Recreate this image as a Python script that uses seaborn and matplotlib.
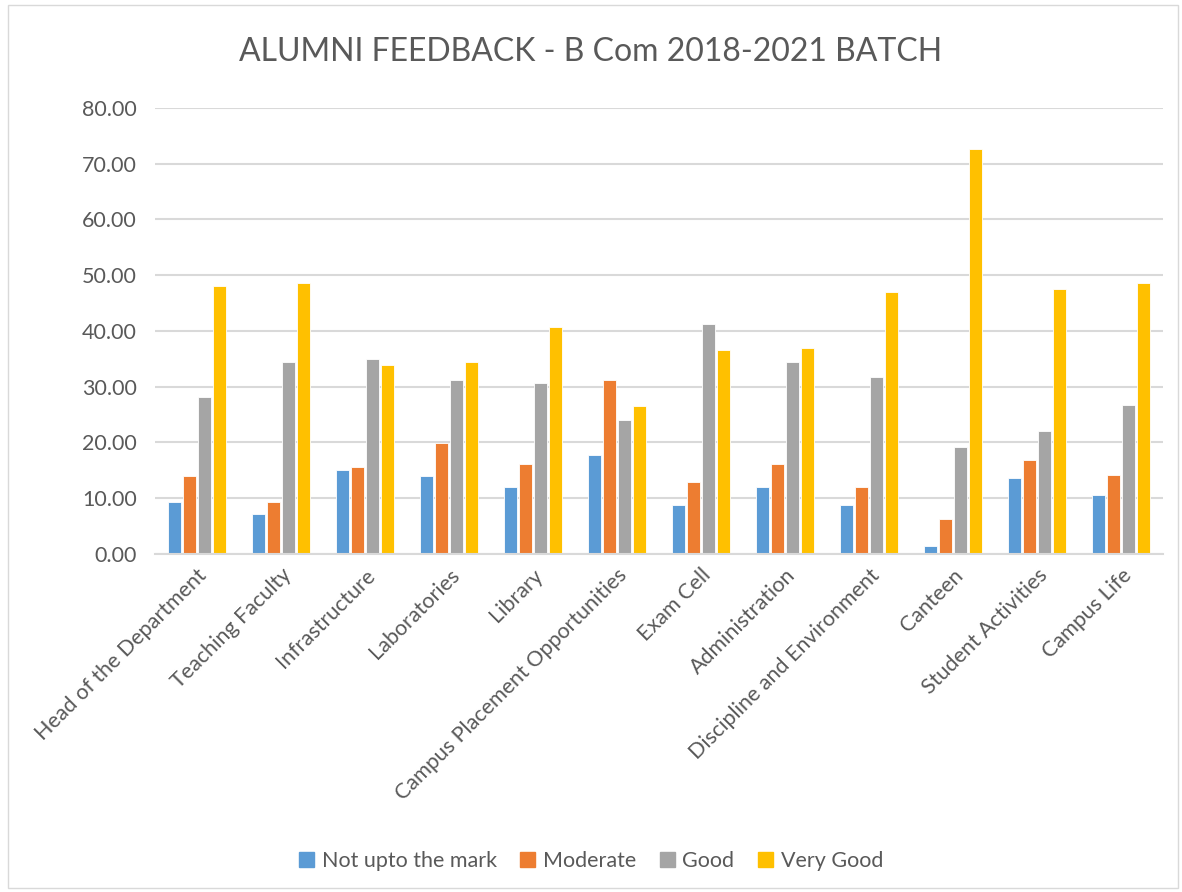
"""
Alumni feedback bar chart - B Com 2018-2021 batch
"""

import pandas as pd
import matplotlib.pyplot as plt
import matplotlib.patches as mpatches
import seaborn as sns

# data
categories = ['Head of the Department', 'Teaching Faculty', 'Infrastructure', 'Laboratories',
              'Library', 'Campus Placement Opportunities', 'Exam Cell', 'Administration',
              'Discipline and Environment', 'Canteen', 'Student Activities', 'Campus Life']
ratings = ['Not upto the mark', 'Moderate', 'Good', 'Very Good']
not_upto_mark = [9.37, 7.22, 15.10, 13.97, 11.94, 17.67, 8.78, 11.94, 8.79, 1.43, 13.69, 10.52]
moderate = [13.97, 9.37, 15.64, 19.82, 16.18, 31.28, 12.96, 16.18, 11.95, 6.22, 16.86, 14.23]
good = [28.18, 34.45, 34.93, 31.28, 30.75, 23.94, 41.25, 34.45, 31.80, 19.25, 22.00, 26.80]
very_good = [48.06, 48.54, 33.91, 34.45, 40.72, 26.57, 36.54, 37.01, 47.04, 72.69, 47.50, 48.60]
colors = ['#5B9BD5', '#ED7D31', '#A5A5A5', '#FFC000']

rows = []
for i, cat in enumerate(categories):
    for rating, series in zip(ratings, [not_upto_mark, moderate, good, very_good]):
        rows.append({'category': cat, 'rating': rating, 'value': series[i]})
df = pd.DataFrame(rows)

sns.set_style("white")
plt.rcParams['font.family'] = ['Lato', 'DejaVu Sans']
text_color = '#595959'
grid_color = '#D9D9D9'

fig = plt.figure(figsize=(11.82, 8.92), dpi=100)
ax = fig.add_axes([0.131, 0.379, 0.853, 0.500])

sns.barplot(data=df, x='category', y='value', hue='rating', hue_order=ratings,
            order=categories, palette=colors, saturation=1, width=0.72, gap=0.15,
            edgecolor='white', linewidth=0.6, ax=ax, legend=False)

ax.set_ylim(0, 80)
ax.set_yticks(range(0, 81, 10))
ax.set_yticklabels([f'{v:.2f}' for v in range(0, 81, 10)], fontsize=15.5, color=text_color)
ax.set_xlim(-0.5, len(categories) - 0.5)
ax.set_xticks(range(len(categories)))
ax.set_xticklabels(categories, rotation=45, ha='right', rotation_mode='anchor',
                   fontsize=15.5, color=text_color)
ax.tick_params(axis='y', length=0, pad=13)
ax.tick_params(axis='x', length=0, pad=8)
ax.set_xlabel('')
ax.set_ylabel('')
ax.yaxis.grid(True, color=grid_color, linewidth=1.5)
ax.set_axisbelow(True)
for side in ['top', 'right', 'left']:
    ax.spines[side].set_visible(False)
ax.spines['bottom'].set_color(grid_color)
ax.spines['bottom'].set_linewidth(1.5)

fig.text(0.5, 0.942, 'ALUMNI FEEDBACK - B Com 2018-2021 BATCH', ha='center', va='center',
         fontsize=23, color=text_color)

handles = [mpatches.Patch(color=c, label=r) for r, c in zip(ratings, colors)]
fig.legend(handles=handles, loc='center', bbox_to_anchor=(0.5, 0.035), ncol=4,
           frameon=False, fontsize=15.5, handlelength=0.7, handleheight=0.7,
           handletextpad=0.35, columnspacing=1.1, labelcolor=text_color)

# chart border
fig.patches.append(mpatches.Rectangle((0.007, 0.004), 0.99, 0.99, transform=fig.transFigure,
                                      fill=False, edgecolor=grid_color, linewidth=1))

plt.savefig('out.png', dpi=100)
plt.close()
